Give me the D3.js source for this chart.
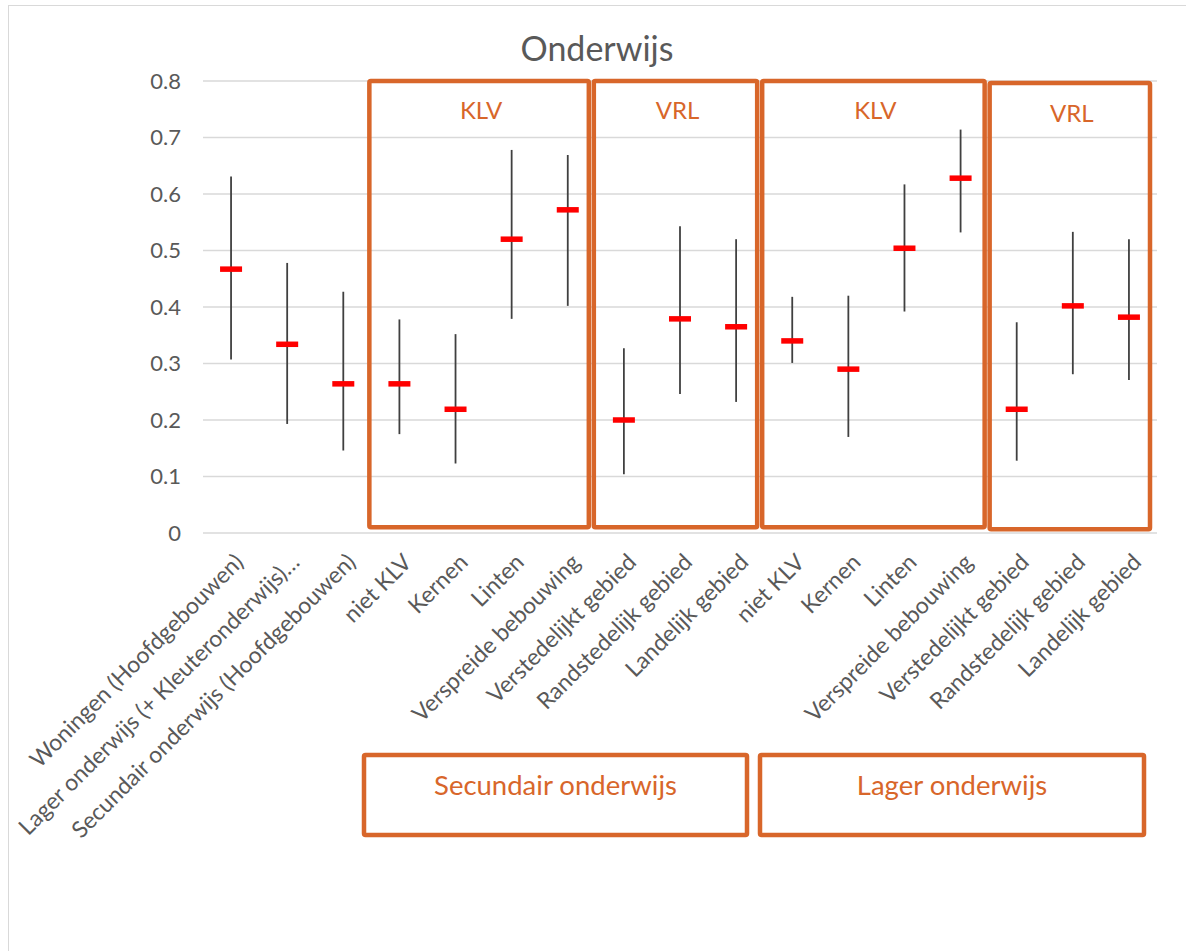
<!DOCTYPE html>
<html>
<head>
<meta charset="utf-8">
<script src="https://cdn.jsdelivr.net/npm/d3@7.9.0/dist/d3.min.js"></script>
<style>
  body { margin: 0; background: #fff; }
  svg { display: block; font-family: Lato, "Open Sans", sans-serif; }
</style>
</head>
<body>
<svg id="chart" width="1186" height="951"></svg>
<script>
const categories = [
  "Woningen (Hoofdgebouwen)",
  "Lager onderwijs (+ Kleuteronderwijs)…",
  "Secundair onderwijs (Hoofdgebouwen)",
  "niet KLV", "Kernen", "Linten", "Verspreide bebouwing",
  "Verstedelijkt gebied", "Randstedelijk gebied", "Landelijk gebied",
  "niet KLV", "Kernen", "Linten", "Verspreide bebouwing",
  "Verstedelijkt gebied", "Randstedelijk gebied", "Landelijk gebied"
];
const highValues = [0.631, 0.478, 0.427, 0.378, 0.352, 0.678, 0.669, 0.327, 0.543, 0.520, 0.418, 0.420, 0.617, 0.714, 0.373, 0.533, 0.520];
const lowValues  = [0.307, 0.193, 0.146, 0.175, 0.123, 0.379, 0.402, 0.104, 0.246, 0.232, 0.301, 0.170, 0.392, 0.532, 0.128, 0.281, 0.271];
const midValues  = [0.467, 0.334, 0.264, 0.264, 0.219, 0.520, 0.572, 0.200, 0.379, 0.365, 0.340, 0.290, 0.504, 0.628, 0.219, 0.402, 0.382];
const yTicks = [0, 0.1, 0.2, 0.3, 0.4, 0.5, 0.6, 0.7, 0.8];

const groupLabels = ["KLV", "VRL", "KLV", "VRL"];
const groupStart = [3, 7, 10, 14];
const groupEnd = [6, 9, 13, 16];
const sectionLabels = ["Secundair onderwijs", "Lager onderwijs"];

const orange = "#D8662A";
const textGrey = "#595959";

const svg = d3.select("#chart");
const margin = { left: 203, right: 29, top: 81 };
const width = 1186;

const x = d3.scaleBand()
  .domain(d3.range(categories.length))
  .range([margin.left, width - margin.right])
  .padding(0);
const y = d3.scaleLinear().domain([0, 0.8]).range([533, margin.top]);

// outer frame
svg.append("rect")
  .attr("x", 8.5).attr("y", 5.5)
  .attr("width", 1200).attr("height", 1000)
  .attr("fill", "none").attr("stroke", "#d9d9d9");

// title
svg.append("text")
  .attr("x", 597).attr("y", 61)
  .attr("text-anchor", "middle")
  .attr("fill", textGrey)
  .style("font-size", "34px")
  .text("Onderwijs");

// gridlines
svg.append("g")
  .selectAll("line")
  .data(yTicks)
  .join("line")
  .attr("x1", x.range()[0]).attr("x2", x.range()[1])
  .attr("y1", (d) => y(d)).attr("y2", (d) => y(d))
  .attr("stroke", "#d9d9d9").attr("stroke-width", 1.5);

// y axis labels
const yAxis = svg.append("g")
  .attr("transform", `translate(${margin.left - 19},0)`)
  .call(d3.axisLeft(y).tickValues(yTicks).tickFormat((d) => d === 0 ? "0" : d3.format(".1f")(d)).tickSize(0));
yAxis.select(".domain").remove();
yAxis.selectAll("text")
  .attr("fill", textGrey)
  .style("font-family", "Lato")
  .style("font-size", "22px");

// group boxes
const boxes = svg.append("g");
groupLabels.forEach((label, i) => {
  const x0 = x(groupStart[i]) + (i === 3 ? 3 : 0);
  const x1 = x(groupEnd[i]) + x.bandwidth() - (i === 2 ? 2 : 5);
  boxes.append("rect")
    .attr("x", x0 - 2).attr("y", y(0.8) + (i === 3 ? 2 : 0))
    .attr("width", x1 - x0).attr("height", y(0.01) - y(0.8))
    .attr("fill", "none").attr("stroke", orange).attr("stroke-width", 4.5)
    .attr("rx", 1.5);
  boxes.append("text")
    .attr("x", (x0 + x1) / 2).attr("y", 119 + (i === 3 ? 3 : 0))
    .attr("text-anchor", "middle")
    .attr("fill", orange)
    .style("font-size", "24px")
    .text(label);
});

// range lines
const cats = d3.range(categories.length);
svg.append("g")
  .selectAll("line")
  .data(cats)
  .join("line")
  .attr("x1", (i) => x(i) + x.bandwidth() / 2)
  .attr("x2", (i) => x(i) + x.bandwidth() / 2)
  .attr("y1", (i) => y(highValues[i]))
  .attr("y2", (i) => y(lowValues[i]))
  .attr("stroke", "#404040").attr("stroke-width", 1.8);

// median markers
svg.append("g")
  .selectAll("rect")
  .data(cats)
  .join("rect")
  .attr("x", (i) => x(i) + x.bandwidth() / 2 - 11)
  .attr("y", (i) => y(midValues[i]) - 2.75)
  .attr("width", 22).attr("height", 5.5)
  .attr("fill", "#ff0000");

// category labels
svg.append("g")
  .selectAll("text")
  .data(cats)
  .join("text")
  .attr("transform", (i) => `translate(${x(i) + x.bandwidth() / 2 + 8},558) rotate(-45)`)
  .attr("text-anchor", "end")
  .attr("dy", "0.35em")
  .attr("fill", textGrey)
  .style("font-size", "23px")
  .text((i) => categories[i]);

// section boxes below
const sectionX = [[364, 747], [760, 1144]];
sectionLabels.forEach((label, i) => {
  const [a, b] = sectionX[i];
  svg.append("rect")
    .attr("x", a).attr("y", 755)
    .attr("width", b - a).attr("height", 80)
    .attr("fill", "none").attr("stroke", orange).attr("stroke-width", 4.5)
    .attr("rx", 1.5);
  svg.append("text")
    .attr("x", (a + b) / 2).attr("y", 795)
    .attr("text-anchor", "middle")
    .attr("fill", orange)
    .style("font-size", "27.5px")
    .text(label);
});
</script>
</body>
</html>
